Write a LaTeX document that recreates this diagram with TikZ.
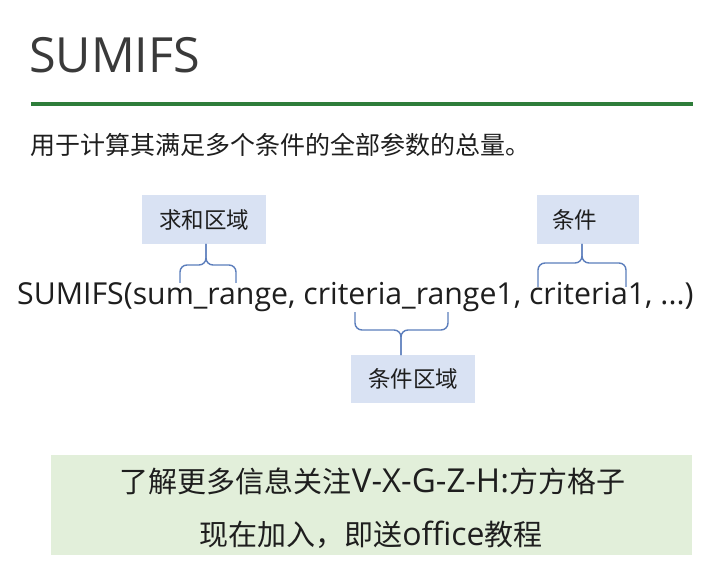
\documentclass[tikz,border=0pt]{standalone}
\usepackage{fontspec}
\setmainfont{Open Sans}
\newfontfamily\cjk{Noto Sans CJK SC}
\definecolor{titlegray}{RGB}{58,58,58}
\definecolor{txt}{RGB}{30,30,30}
\definecolor{rulegreen}{RGB}{46,125,58}
\definecolor{boxblue}{RGB}{217,226,243}
\definecolor{bracecol}{RGB}{92,126,188}
\definecolor{notegreen}{RGB}{226,239,218}
\newcommand{\cjksz}{\cjk\fontsize{29}{32}\selectfont}
\tikzset{
  lbl/.style={fill=boxblue, inner sep=0pt, text=txt, font=\cjk\fontsize{22.5}{26}\selectfont},
  bracepath/.style={draw=bracecol, line width=1.4pt, rounded corners=7pt},
  noteline/.style={inner sep=0pt, text=txt},
}
\begin{document}
\begin{tikzpicture}[x=1pt,y=-1pt]
\useasboundingbox[fill=white] (0,0) rectangle (720,577);
% title
\node[anchor=base west, inner sep=0pt, text=titlegray, font=\fontsize{48.5}{52}\selectfont] (title) at (29,73) {SUMIFS};
\draw[rulegreen, line width=4pt] (31,104) -- (693,104);
\node[anchor=west, inner sep=0pt, text=txt, font=\cjk\fontsize{25}{28}\selectfont] (sub) at (30,145) {用于计算其满足多个条件的全部参数的总量。};
% formula
\node[anchor=base west, inner sep=0pt, text=txt, font=\fontsize{30.25}{34}\selectfont] (formula) at (17,305) {SUMIFS(sum\_range, criteria\_range1, criteria1, ...)};
% label boxes
\node[lbl, minimum width=124pt, minimum height=49pt] (b1) at (204,219.5) {求和区域};
\node[lbl, text width=72pt, align=left, inner xsep=15pt, minimum height=49pt] (b2) at (588,219.5) {条件};
\node[lbl, minimum width=124pt, minimum height=48pt] (b3) at (413,379) {条件区域};
% brace coordinates
\coordinate (a1) at (180,283); \coordinate (a2) at (236,283); \coordinate (at) at (206,244);
\coordinate (c1) at (538,287); \coordinate (c2) at (626,287); \coordinate (ct) at (582,244);
\coordinate (d1) at (355,312); \coordinate (d2) at (448,312); \coordinate (dt) at (401,355);
% braces
\draw[bracepath] (a1) -- (a1 |- 0,265) -- (at |- 0,265) -- (at);
\draw[bracepath] (a2) -- (a2 |- 0,265) -- (at |- 0,265) -- (at);
\draw[bracepath] (c1) -- (c1 |- 0,263) -- (ct |- 0,263) -- (ct);
\draw[bracepath] (c2) -- (c2 |- 0,263) -- (ct |- 0,263) -- (ct);
\draw[bracepath] (d1) -- (d1 |- 0,330) -- (dt |- 0,330) -- (dt);
\draw[bracepath] (d2) -- (d2 |- 0,330) -- (dt |- 0,330) -- (dt);
% note box
\node[fill=notegreen, minimum width=641pt, minimum height=100pt, inner sep=0pt] (note) at (371.5,505) {};
\node[noteline] (n1) at (372.5,481) {{\cjksz 了解更多信息关注}{\fontsize{33}{34}\selectfont V-X-G-Z-H:}{\cjksz 方方格子}};
\node[noteline] (n2) at (371,535) {{\cjksz 现在加入，即送}{\fontsize{32}{34}\selectfont office}{\cjksz 教程}};
\end{tikzpicture}
\end{document}
